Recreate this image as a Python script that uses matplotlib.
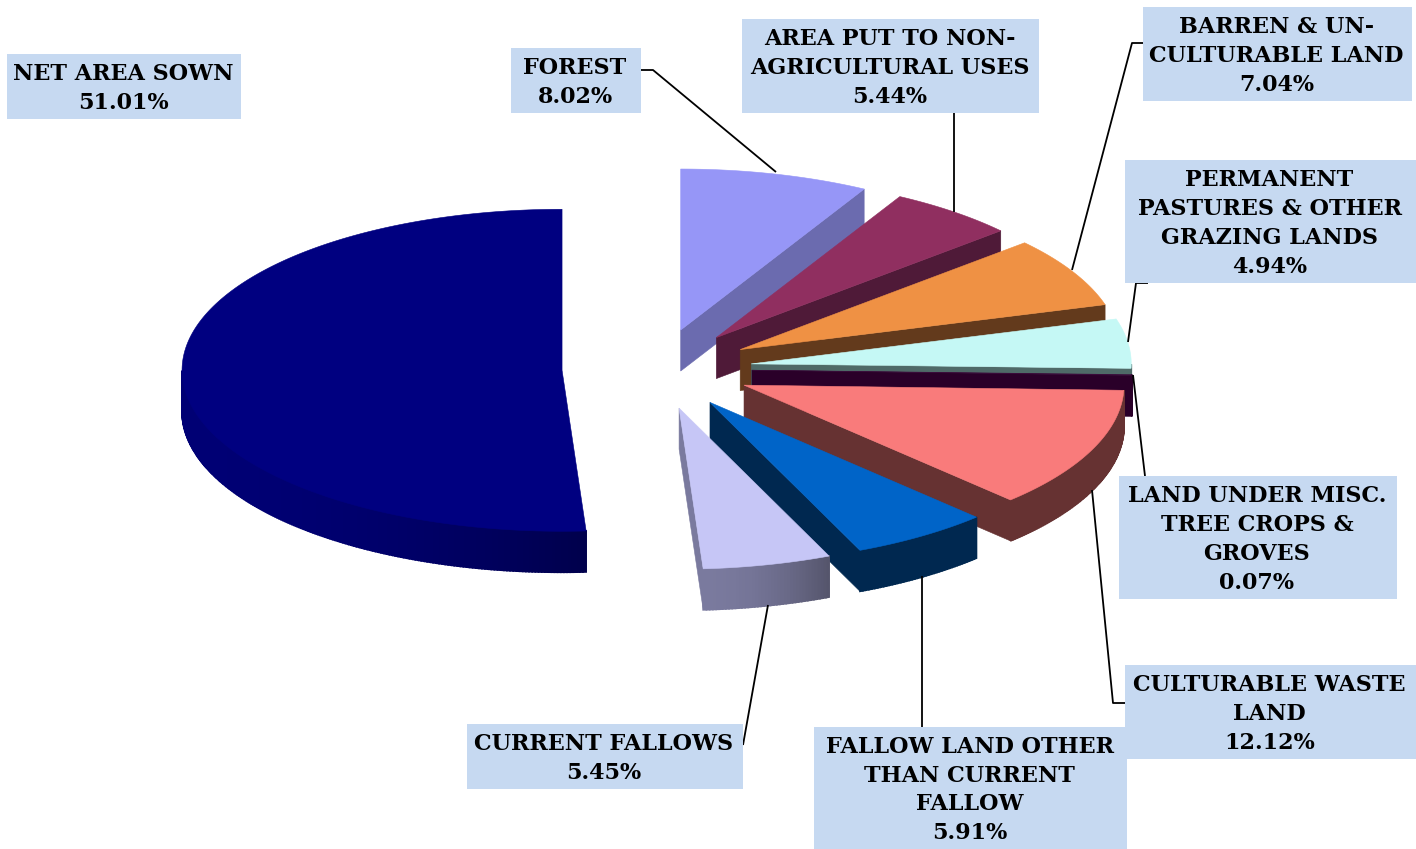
import numpy as np
import matplotlib
matplotlib.use("Agg")
import matplotlib.pyplot as plt
from matplotlib.patches import Polygon, Rectangle
from matplotlib.colors import to_rgb

# Land use shares, clockwise from 12 o'clock
categories = ["FOREST", "AREA PUT TO NON-\nAGRICULTURAL USES", "BARREN & UN-\nCULTURABLE LAND",
              "PERMANENT\nPASTURES & OTHER\nGRAZING LANDS", "LAND UNDER MISC.\nTREE CROPS &\nGROVES",
              "CULTURABLE WASTE\nLAND", "FALLOW LAND OTHER\nTHAN CURRENT\nFALLOW", "CURRENT FALLOWS",
              "NET AREA SOWN"]
values = [8.02, 5.44, 7.04, 4.94, 0.07, 12.12, 5.91, 5.45, 51.01]

top_colors = ["#9696F7", "#902F60", "#EF9144", "#C5F8F5", "#3A0A3A", "#F97B7B", "#0064C8", "#C6C6F6", "#000080"]
side_left = ["#6B6BAF", "#4F1A38", "#633A1C", "#4F6A68", "#2A0029", "#663232", "#002850", "#7A7A9E", "#000074"]
side_right = ["#6B6BAF", "#4F1A38", "#633A1C", "#4F6A68", "#2A0029", "#663232", "#002850", "#55556C", "#00004C"]

# label boxes in pixels: x0, y0, x1, y1
boxes = [(511, 48, 641, 113), (742, 19, 1039, 113), (1143, 7, 1412, 101), (1125, 160, 1416, 283),
         (1119, 476, 1397, 599), (1125, 665, 1416, 759), (814, 727, 1127, 849), (467, 724, 743, 789),
         (7, 54, 241, 119)]
leaders = [[(641, 70), (653, 70), (776, 172)], [(954, 113), (954, 212)],
           [(1143, 43), (1132, 43), (1072, 270)], [(1148, 283), (1136, 283), (1128, 342)],
           [(1133, 375), (1145, 476)], [(1125, 703), (1113, 703), (1092, 490)],
           [(922, 727), (922, 576)], [(743, 745), (768, 605)], []]

cx, cy = 657, 369
rx, ry = 380, 161
depth = 41
explode = 0.25

fig = plt.figure(figsize=(14.16, 8.49), dpi=100)
ax = fig.add_axes([0, 0, 1, 1])
ax.set_xlim(0, 1416)
ax.set_ylim(849, 0)
ax.axis("off")


def face(pts, color, z, lw=0.4):
    ax.add_patch(Polygon(pts, closed=True, facecolor=color, edgecolor=color, lw=lw, zorder=z))


def mix(c0, c1, t):
    return tuple((1 - t) * a + t * b for a, b in zip(to_rgb(c0), to_rgb(c1)))


def draw_wedge(a0, a1, i, z):
    mid = (a0 + a1) / 2
    ox = cx + explode * rx * np.sin(mid)
    oy = cy - explode * ry * np.cos(mid)
    th = np.linspace(a0, a1, max(int((a1 - a0) * 120), 4))
    xs = ox + rx * np.sin(th)
    ys = oy - ry * np.cos(th)

    # cut walls, only those facing the viewer
    if np.sin(a0) < -1e-6:
        face([(ox, oy), (xs[0], ys[0]), (xs[0], ys[0] + depth), (ox, oy + depth)], side_left[i], z)
    if np.sin(a1) > 1e-6:
        face([(ox, oy), (xs[-1], ys[-1]), (xs[-1], ys[-1] + depth), (ox, oy + depth)], side_left[i], z + 0.1)

    # outer rim, front part only
    x_lo, x_hi = xs.min(), xs.max()
    for k in range(len(th) - 1):
        if np.cos((th[k] + th[k + 1]) / 2) < 0:
            t = ((xs[k] - x_lo) / (x_hi - x_lo)) ** 2
            col = mix(side_left[i], side_right[i], t)
            face([(xs[k], ys[k]), (xs[k + 1], ys[k + 1]), (xs[k + 1], ys[k + 1] + depth), (xs[k], ys[k] + depth)],
                 col, z + 0.2, lw=1.2)

    # top surface
    face([(ox, oy)] + list(zip(xs, ys)), top_colors[i], z + 0.3)


edges = np.cumsum([0] + values) / sum(values) * 2 * np.pi
for i in range(len(values)):
    draw_wedge(edges[i], edges[i + 1], i, 2 + i)

for i, name in enumerate(categories):
    x0, y0, x1, y1 = boxes[i]
    ax.add_patch(Rectangle((x0, y0), x1 - x0, y1 - y0, facecolor="#C6D9F1", edgecolor="none", zorder=20))
    if leaders[i]:
        lx, ly = zip(*leaders[i])
        ax.plot(lx, ly, color="black", lw=1.3, zorder=19, solid_capstyle="butt")
    ax.text((x0 + x1) / 2 - 1, (y0 + y1) / 2 + 2, f"{name}\n{values[i]:.2f}%", ha="center", va="center",
            family="DejaVu Serif", weight="bold", fontsize=16, linespacing=1.4, color="black", zorder=21)

fig.savefig("out.png", dpi=100, facecolor="white")
